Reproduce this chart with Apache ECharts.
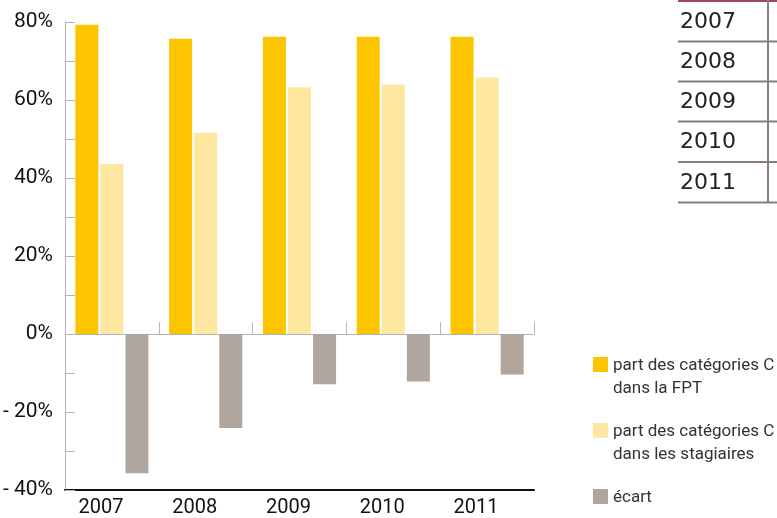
<!DOCTYPE html>
<html>
<head>
<meta charset="utf-8">
<script src="https://cdn.jsdelivr.net/npm/echarts@6/dist/echarts.min.js"></script>
<style>
html,body{margin:0;padding:0;background:#fff;}
#c{width:777px;height:518px;}
</style>
</head>
<body>
<div id="c"></div>
<script>
var categories = ['2007', '2008', '2009', '2010', '2011'];
var seriesNames = ['part des catégories C\ndans la FPT', 'part des catégories C\ndans les stagiaires', 'écart'];
var partFPT = [79.3, 75.7, 76.2, 76.2, 76.2];
var partStagiaires = [43.6, 51.6, 63.3, 64.0, 65.8];
var ecart = [-35.7, -24.1, -12.9, -12.2, -10.4];
var yTicks = [-40, -20, 0, 20, 40, 60, 80];

var FONT = "'Roboto', sans-serif";
var chart = echarts.init(document.getElementById('c'), null, {renderer: 'canvas'});

var tableGraphics = [];
var rowLines = [41.5, 81.5, 121.5, 162, 202.5];
tableGraphics.push({type: 'rect', shape: {x: 678, y: 0, width: 99, height: 2}, style: {fill: '#9b4a5e'}, silent: true});
tableGraphics.push({type: 'rect', shape: {x: 767, y: 0, width: 2, height: 203}, style: {fill: '#8a7e76'}, silent: true});
rowLines.forEach(function (ly, i) {
  tableGraphics.push({type: 'rect', shape: {x: 678, y: ly - 1, width: 99, height: 2}, style: {fill: '#8a7e76'}, silent: true});
  var top = i === 0 ? 1 : rowLines[i - 1];
  tableGraphics.push({
    type: 'text', x: 680, y: (top + ly) / 2 + 1, silent: true,
    style: {text: categories[i], fill: '#222', font: "22px 'DejaVu Sans'", verticalAlign: 'middle', align: 'left'}
  });
});

var iconPath = 'path://M0,0h15v15h-15z M0,40';

chart.setOption({
  animation: false,
  grid: {left: 62, right: 243, top: 22, bottom: 24, containLabel: false},
  legend: {
    orient: 'vertical', left: 593, top: 354, height: 200,
    itemWidth: 15, itemHeight: 40, itemGap: 20,
    padding: 0,
    data: seriesNames.map(function (n) { return {name: n, icon: iconPath}; }),
    formatter: function (n) { return n.indexOf('\n') < 0 ? n + '\n\u00a0' : n; },
    textStyle: {fontFamily: FONT, fontSize: 17, lineHeight: 23, color: '#333'},
    selectedMode: false
  },
  xAxis: [{
    type: 'category', data: categories, position: 'bottom',
    axisLine: {onZero: false, lineStyle: {color: '#111', width: 2}},
    axisTick: {show: false},
    axisLabel: {fontFamily: FONT, fontSize: 20, color: '#111', margin: 8, padding: [0, 22, 0, 0]},
    splitLine: {show: false}
  }, {
    type: 'category', data: categories, position: 'top',
    axisLine: {onZero: true, lineStyle: {color: '#b5b5b5', width: 1}},
    axisTick: {show: true, inside: false, length: 12, lineStyle: {color: '#b5b5b5'}},
    axisLabel: {show: false},
    splitLine: {show: false}
  }],
  yAxis: {
    type: 'value', min: -40, max: 80, interval: 10,
    axisLine: {show: true, lineStyle: {color: '#b5b5b5', width: 1}},
    axisTick: {show: true, inside: true, length: 10, lineStyle: {color: '#b5b5b5'}},
    axisLabel: {
      fontFamily: FONT, fontSize: 21, color: '#111', margin: 12,
      formatter: function (v) {
        if (yTicks.indexOf(v) < 0) return '';
        return v < 0 ? '- ' + Math.abs(v) + '%' : v + '%';
      }
    },
    splitLine: {show: false}
  },
  series: [
    {name: seriesNames[0], type: 'bar', data: partFPT, barWidth: 23, barGap: '9%', itemStyle: {color: '#FDC500'}},
    {name: seriesNames[1], type: 'bar', data: partStagiaires, barWidth: 23, barGap: '9%', itemStyle: {color: '#FEE7A1'}},
    {name: seriesNames[2], type: 'bar', data: ecart, barWidth: 23, barGap: '9%', itemStyle: {color: '#B1A69E'}}
  ],
  graphic: tableGraphics
});
</script>
</body>
</html>
